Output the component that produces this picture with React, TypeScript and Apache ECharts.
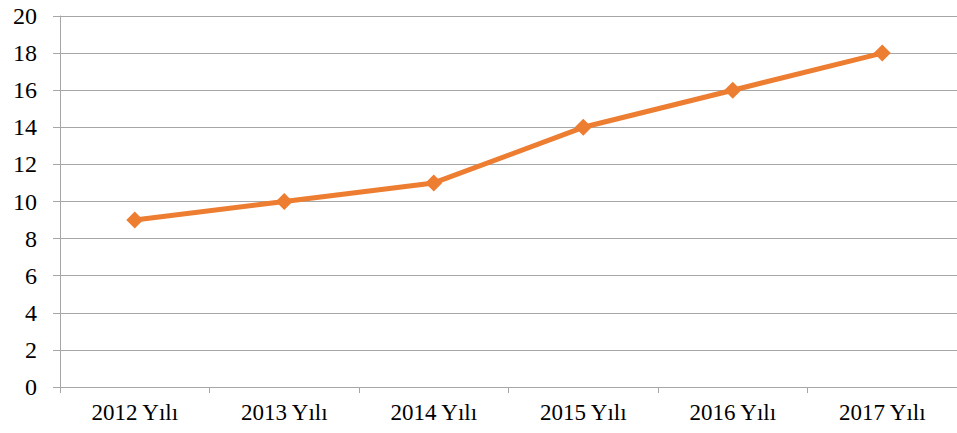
import React, { useEffect, useRef } from "react";
import * as echarts from "echarts";

const categories = ["2012 Yılı", "2013 Yılı", "2014 Yılı", "2015 Yılı", "2016 Yılı", "2017 Yılı"];
const values = [9, 10, 11, 14, 16, 18];

export default function App() {
  const ref = useRef<HTMLDivElement>(null);
  useEffect(() => {
    if (!ref.current) return;
    const chart = echarts.init(ref.current, undefined, { renderer: "svg" });
    chart.setOption({
      animation: false,
      backgroundColor: "#ffffff",
      grid: { left: 60, right: -10, top: 16, bottom: 46 },
      xAxis: {
        type: "category",
        data: categories,
        boundaryGap: true,
        axisLine: { show: true, lineStyle: { color: "#a6a6a6", width: 1 } },
        axisTick: { show: true, alignWithLabel: false, length: 6, lineStyle: { color: "#a6a6a6" } },
        axisLabel: { color: "#000", fontFamily: "'Liberation Serif', 'Times New Roman', serif", fontSize: 23, margin: 14 },
      },
      yAxis: {
        type: "value",
        min: 0,
        max: 20,
        interval: 2,
        axisLine: { show: true, lineStyle: { color: "#a6a6a6", width: 1 } },
        axisTick: { show: true, length: 7, lineStyle: { color: "#a6a6a6" } },
        axisLabel: { color: "#000", fontFamily: "'Liberation Serif', 'Times New Roman', serif", fontSize: 24, margin: 23 },
        splitLine: { show: true, lineStyle: { color: "#a6a6a6", width: 1 } },
      },
      series: [
        {
          type: "line",
          data: values,
          symbol: "diamond",
          symbolSize: 17,
          lineStyle: { color: "#ED7D31", width: 5 },
          itemStyle: { color: "#ED7D31" },
        },
      ],
    });
    return () => chart.dispose();
  }, []);
  return <div ref={ref} style={{ position: "fixed", left: 0, top: 0, width: 957, height: 433 }} />;
}
